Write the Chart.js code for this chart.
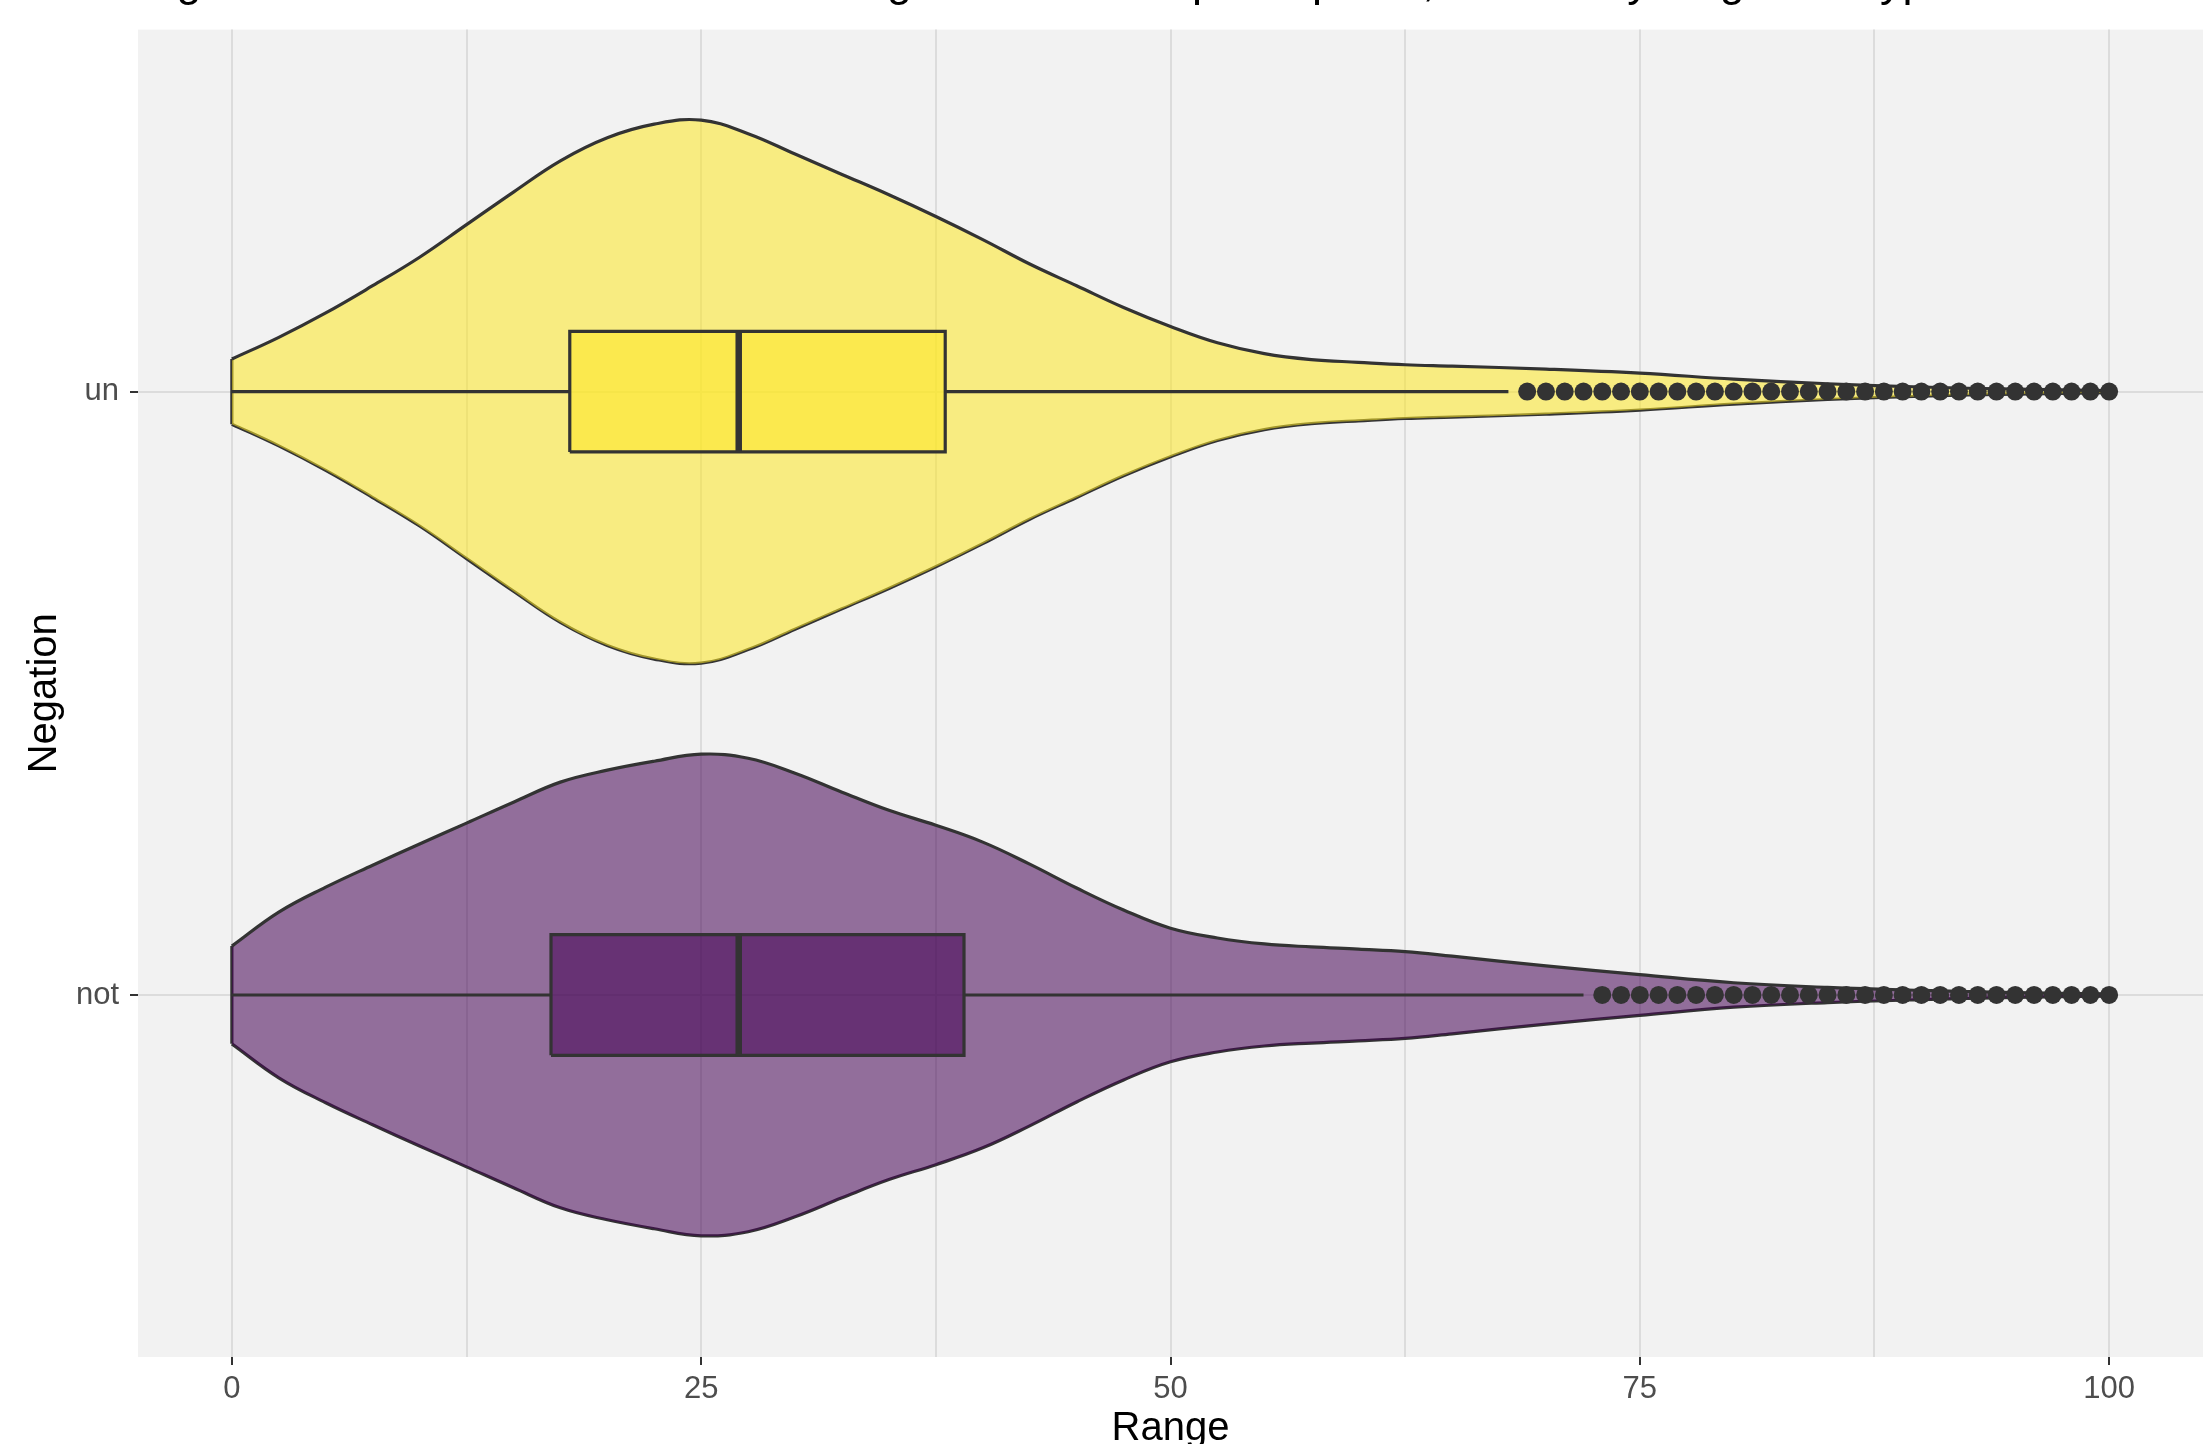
<!DOCTYPE html>
<html>
<head>
<meta charset="utf-8">
<script src="https://cdn.jsdelivr.net/npm/chart.js@4.4.1/dist/chart.umd.min.js"></script>
<style>
  html, body { margin: 0; padding: 0; background: #ffffff; overflow: hidden; }
  #chart { display: block; width: 2203px; height: 1444px; }
</style>
</head>
<body>
<canvas id="chart" width="2203" height="1444"></canvas>
<script>
// categories, bottom to top
const categories = ['not', 'un'];

// violin outline: relative density (1 = widest point)
const densityX = [0, 2.5, 5, 7.5, 10, 12.5, 15, 17.5, 20, 22.5, 25, 27.5, 30, 32.5, 35, 37.5, 40,
  42.5, 45, 47.5, 50, 52.5, 55, 57.5, 60, 62.5, 65, 70, 75, 80, 85, 90, 95, 100];
const notDensity = [0.18, 0.305, 0.397, 0.478, 0.556, 0.633, 0.71, 0.784, 0.828, 0.861, 0.887, 0.872,
  0.817, 0.747, 0.68, 0.625, 0.563, 0.482, 0.394, 0.313, 0.246, 0.21, 0.188, 0.177, 0.169, 0.16,
  0.143, 0.107, 0.075, 0.045, 0.028, 0.017, 0.009, 0.004];
const unDensity = [0.12, 0.2, 0.29, 0.39, 0.495, 0.615, 0.735, 0.85, 0.935, 0.985, 1.0, 0.95,
  0.875, 0.8, 0.725, 0.645, 0.56, 0.47, 0.39, 0.31, 0.24, 0.18, 0.14, 0.118, 0.108, 0.099,
  0.094, 0.083, 0.068, 0.046, 0.029, 0.017, 0.009, 0.004];

// box plot stats, same order as categories
const whiskerLow = [0, 0];
const q1 = [17, 18];
const medians = [27, 27];
const q3 = [39, 38];
const whiskerHigh = [72, 68];

const notOutliers = [73, 74, 75, 76, 77, 78, 79, 80, 81, 82, 83, 84, 85, 86, 87, 88, 89, 90,
  91, 92, 93, 94, 95, 96, 97, 98, 99, 100];
const unOutliers = [69, 70, 71, 72, 73, 74, 75, 76, 77, 78, 79, 80, 81, 82, 83, 84, 85, 86, 87,
  88, 89, 90, 91, 92, 93, 94, 95, 96, 97, 98, 99, 100];

const xMajorTicks = [0, 25, 50, 75, 100];
const xMinorTicks = [12.5, 37.5, 62.5, 87.5];

const titleText = 'Figure 14: Distribution of selected ranges across the participants, divided by Negation Type';

const FONT = '"Liberation Sans", Arial, Helvetica, sans-serif';
const outline = '#333333';
const fillColors = ['rgba(68, 1, 84, 0.55)', 'rgba(253, 231, 37, 0.55)'];
const VIOLIN_HALF = 0.45;
const BOX_HALF = 0.1;
const LINE_W = 3.2;

Chart.defaults.font.family = FONT;

const densities = [notDensity, unDensity];
const outliers = [notOutliers, unOutliers];

const datasets = [];

categories.forEach((cat, i) => {
  const pos = i + 1;
  const dens = densities[i];

  // violin: upper edge filled down to the lower edge
  datasets.push({
    type: 'line',
    label: cat + ' violin top',
    data: densityX.map((x, k) => ({ x: x, y: pos + dens[k] * VIOLIN_HALF })),
    borderColor: outline,
    borderWidth: LINE_W,
    backgroundColor: fillColors[i],
    fill: '+1',
    tension: 0.4,
    pointRadius: 0,
    order: 10
  });
  datasets.push({
    type: 'line',
    label: cat + ' violin bottom',
    data: densityX.map((x, k) => ({ x: x, y: pos - dens[k] * VIOLIN_HALF })),
    borderColor: outline,
    borderWidth: LINE_W,
    fill: false,
    tension: 0.4,
    pointRadius: 0,
    order: 10
  });
  // flat left end of the violin (trimmed at the data minimum)
  datasets.push({
    type: 'line',
    label: cat + ' violin end',
    data: [
      { x: densityX[0], y: pos - dens[0] * VIOLIN_HALF },
      { x: densityX[0], y: pos + dens[0] * VIOLIN_HALF }
    ],
    borderColor: outline,
    borderWidth: LINE_W,
    fill: false,
    pointRadius: 0,
    order: 10
  });

  // whiskers
  datasets.push({
    type: 'line',
    label: cat + ' whisker low',
    data: [{ x: whiskerLow[i], y: pos }, { x: q1[i], y: pos }],
    borderColor: outline,
    borderWidth: LINE_W,
    pointRadius: 0,
    fill: false,
    order: 6
  });
  datasets.push({
    type: 'line',
    label: cat + ' whisker high',
    data: [{ x: q3[i], y: pos }, { x: whiskerHigh[i], y: pos }],
    borderColor: outline,
    borderWidth: LINE_W,
    pointRadius: 0,
    fill: false,
    order: 6
  });

  // box
  datasets.push({
    type: 'line',
    label: cat + ' box',
    data: [
      { x: q1[i], y: pos - BOX_HALF },
      { x: q3[i], y: pos - BOX_HALF },
      { x: q3[i], y: pos + BOX_HALF },
      { x: q1[i], y: pos + BOX_HALF },
      { x: q1[i], y: pos - BOX_HALF }
    ],
    borderColor: outline,
    borderWidth: LINE_W,
    backgroundColor: fillColors[i],
    fill: 'shape',
    tension: 0,
    pointRadius: 0,
    borderJoinStyle: 'miter',
    order: 5
  });

  // median
  datasets.push({
    type: 'line',
    label: cat + ' median',
    data: [{ x: medians[i], y: pos - BOX_HALF }, { x: medians[i], y: pos + BOX_HALF }],
    borderColor: outline,
    borderWidth: 6.5,
    pointRadius: 0,
    fill: false,
    order: 4
  });

  // outliers
  datasets.push({
    type: 'scatter',
    label: cat + ' outliers',
    data: outliers[i].map(v => ({ x: v, y: pos })),
    backgroundColor: outline,
    borderColor: outline,
    borderWidth: 0,
    pointRadius: 9,
    order: 1
  });
});

// grey panel behind the data
const panelBackground = {
  id: 'panelBackground',
  beforeDraw(chart) {
    const { ctx, chartArea } = chart;
    ctx.save();
    ctx.fillStyle = '#ffffff';
    ctx.fillRect(0, 0, chart.width, chart.height);
    ctx.fillStyle = '#F2F2F2';
    ctx.fillRect(chartArea.left, chartArea.top, chartArea.right - chartArea.left, chartArea.bottom - chartArea.top);
    ctx.restore();
  }
};

// the title sits mostly above the top edge of the picture
const clippedTitle = {
  id: 'clippedTitle',
  afterDraw(chart) {
    const { ctx } = chart;
    ctx.save();
    ctx.fillStyle = '#000000';
    ctx.font = '45px ' + FONT;
    ctx.textAlign = 'left';
    ctx.textBaseline = 'alphabetic';
    ctx.fillText(titleText, 139, -4);
    ctx.restore();
  }
};

new Chart(document.getElementById('chart'), {
  type: 'scatter',
  data: { datasets: datasets },
  options: {
    responsive: false,
    maintainAspectRatio: false,
    devicePixelRatio: 1,
    animation: false,
    layout: { autoPadding: false, padding: { top: 28, right: 0, bottom: 0, left: 0 } },
    plugins: {
      legend: { display: false },
      tooltip: { enabled: false },
      title: { display: false }
    },
    scales: {
      x: {
        type: 'linear',
        min: -5,
        max: 105,
        afterBuildTicks: (scale) => {
          scale.ticks = xMajorTicks.concat(xMinorTicks).sort((a, b) => a - b).map(v => ({ value: v }));
        },
        afterFit: (scale) => { scale.height = 87; },
        border: { display: false },
        grid: {
          color: '#DCDCDC',
          lineWidth: 2,
          drawTicks: true,
          tickLength: 8,
          tickWidth: 2,
          tickColor: (ctx) => (ctx.tick && xMajorTicks.includes(ctx.tick.value)) ? outline : 'rgba(0,0,0,0)'
        },
        ticks: {
          autoSkip: false,
          maxRotation: 0,
          color: '#4D4D4D',
          font: { size: 31 },
          padding: 6,
          callback: (v) => xMajorTicks.includes(v) ? String(v) : ''
        },
        title: {
          display: true,
          text: 'Range',
          color: '#000000',
          font: { size: 40, lineHeight: 0.75 },
          padding: 0
        }
      },
      y: {
        type: 'linear',
        min: 0.4,
        max: 2.6,
        afterBuildTicks: (scale) => {
          scale.ticks = categories.map((c, i) => ({ value: i + 1 }));
        },
        afterFit: (scale) => { scale.width = 138; },
        border: { display: false },
        grid: {
          color: '#DCDCDC',
          lineWidth: 2,
          drawTicks: true,
          tickLength: 8,
          tickWidth: 2,
          tickColor: outline
        },
        ticks: {
          color: '#4D4D4D',
          font: { size: 31 },
          padding: 11,
          callback: (v) => categories[v - 1]
        },
        title: {
          display: true,
          text: 'Negation',
          color: '#000000',
          font: { size: 40, lineHeight: 1.2 },
          padding: { top: 21, bottom: 0 }
        }
      }
    }
  },
  plugins: [panelBackground, clippedTitle]
});
</script>
</body>
</html>
